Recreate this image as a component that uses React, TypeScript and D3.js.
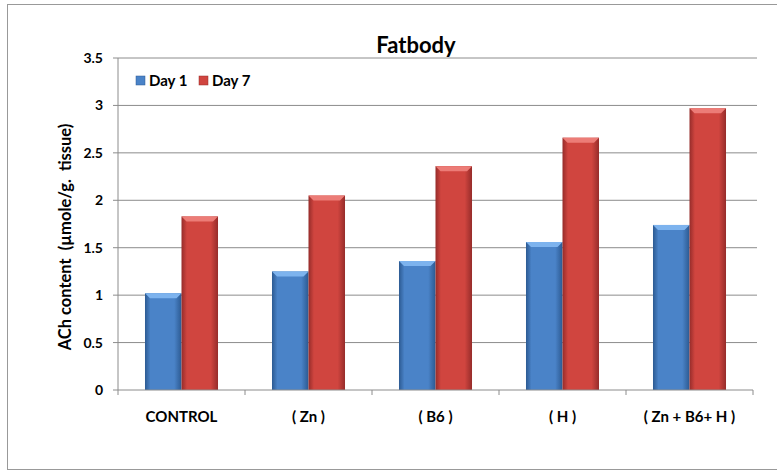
import React from "react";
import * as d3 from "d3";

const categories = ["CONTROL", "( Zn )", "( B6 )", "( H )", "( Zn + B6+ H )"];
const day1 = [1.02, 1.25, 1.36, 1.56, 1.74];
const day7 = [1.83, 2.05, 2.36, 2.66, 2.97];
const seriesNames = ["Day 1", "Day 7"];
const yTicks = [0, 0.5, 1, 1.5, 2, 2.5, 3, 3.5];

const W = 777, H = 474;
const left = 118, right = 753, top = 58, bottom = 390;
const FONT = "Lato, 'Open Sans', sans-serif";

export default function App() {
  const x = d3.scaleBand<string>().domain(categories).range([left, right]).paddingInner(0.425).paddingOuter(0.2125);
  const y = d3.scaleLinear().domain([0, 3.5]).range([bottom, top]);
  const inner = d3.scaleBand<number>().domain([0, 1]).range([0, x.bandwidth()]);
  const series = [day1, day7];
  const grads = [
    { id: "gBlue", edge: "#2c5a92", mid: "#4a83c8", cap: "#7db3ee" },
    { id: "gRed", edge: "#962c2a", mid: "#d0453f", cap: "#ec7c77" },
  ];
  return (
    <svg width={W} height={H} style={{ position: "absolute", left: 0, top: 0, background: "#fff" }} fontFamily={FONT}>
      <defs>
        {grads.map((g) => (
          <linearGradient key={g.id} id={g.id} x1="0" x2="1" y1="0" y2="0">
            <stop offset="0" stopColor={g.edge} />
            <stop offset="0.15" stopColor={g.mid} />
            <stop offset="0.8" stopColor={g.mid} />
            <stop offset="1" stopColor={g.edge} />
          </linearGradient>
        ))}
      </defs>
      <rect x={7.5} y={4.5} width={790} height={465} fill="#fff" stroke="#999" strokeWidth={1} />
      <text x={416} y={53} textAnchor="middle" fontSize={22} fontWeight="bold" fill="#000">Fatbody</text>
      {yTicks.map((t) => (
        <g key={t}>
          {t > 0 && <line x1={left} x2={757} y1={y(t)} y2={y(t)} stroke="#8c8c8c" strokeWidth={1} />}
          <line x1={left - 5} x2={left} y1={y(t)} y2={y(t)} stroke="#8c8c8c" />
          <text x={103} y={y(t) + 5} textAnchor="end" fontSize={14} fontWeight="bold" fill="#000">{String(t)}</text>
        </g>
      ))}
      <line x1={left} x2={left} y1={top} y2={bottom} stroke="#8c8c8c" />
      {categories.map((c, i) =>
        series.map((s, k) => {
          const bx = (x(c) as number) + inner(k)!;
          const bw = inner.bandwidth();
          const by = y(s[i]);
          const g = grads[k];
          const cap = 5;
          return (
            <g key={c + k}>
              <rect x={bx} y={by} width={bw} height={bottom - by} fill={`url(#${g.id})`} />
              <polygon points={`${bx},${by} ${bx + bw},${by} ${bx + bw - cap},${by + cap} ${bx + cap},${by + cap}`} fill={g.cap} />
            </g>
          );
        })
      )}
      <line x1={left} x2={right} y1={bottom} y2={bottom} stroke="#8c8c8c" />
      {d3.range(categories.length + 1).map((j) => {
        const tx = left + (j * (right - left)) / categories.length;
        return <line key={j} x1={tx} x2={tx} y1={bottom} y2={bottom + 5} stroke="#8c8c8c" />;
      })}
      {categories.map((c) => (
        <text key={c} x={(x(c) as number) + x.bandwidth() / 2} y={422} textAnchor="middle" fontSize={15} fontWeight="bold" fill="#000">{c}</text>
      ))}
      <text transform={`translate(71,237) rotate(-90)`} textAnchor="middle" fontSize={16.5} fontWeight="bold" fill="#000" style={{ whiteSpace: "pre" }}>ACh content  (µmole/g.  tissue)</text>
      {seriesNames.map((n, k) => {
        const lx = 136 + k * 63;
        const g = grads[k];
        return (
          <g key={n}>
            <rect x={lx} y={76} width={9} height={9} fill={g.mid} stroke={g.edge} strokeWidth={0.5} />
            <text x={lx + 13} y={86} fontSize={15} fontWeight="bold" fill="#000">{n}</text>
          </g>
        );
      })}
    </svg>
  );
}
